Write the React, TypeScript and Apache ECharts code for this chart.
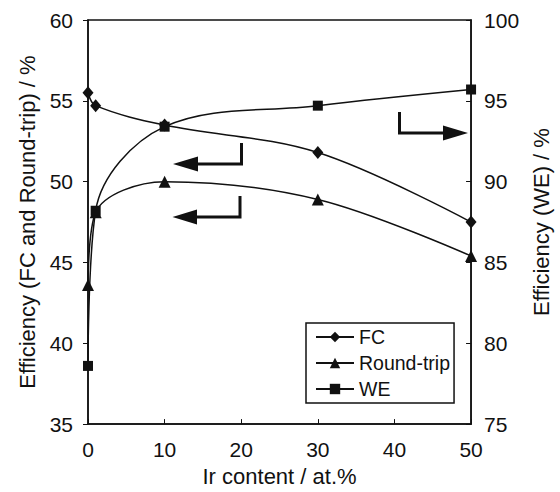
import React, { useEffect, useRef } from "react";
import * as echarts from "echarts";

const irContent = [0, 1, 10, 30, 50];
const fcEff = [55.5, 54.7, 53.5, 51.8, 47.5];
const roundTripEff = [43.6, 48.1, 50.0, 48.9, 45.4];
const weEff = [78.6, 88.2, 93.4, 94.7, 95.7];

const seriesNames = ["FC", "Round-trip", "WE"];
const xTitle = "Ir content / at.%";
const leftTitle = "Efficiency (FC and Round-trip) / %";
const rightTitle = "Efficiency (WE) / %";

const FONT = "'Liberation Sans', Arial, Helvetica, sans-serif";
const INK = "#111";

const pairs = (ys: number[]) => irContent.map((x, i) => [x, ys[i]]);

export default function App() {
  const ref = useRef<HTMLDivElement>(null);
  useEffect(() => {
    document.body.style.margin = "0";
    if (!ref.current) return;
    const chart = echarts.init(ref.current, null, { renderer: "svg" });
    const axisCommon = {
      axisLine: { show: true, lineStyle: { color: INK, width: 1.5 } },
      splitLine: { show: false },
      axisLabel: { color: INK, fontSize: 21, fontFamily: FONT },
      nameTextStyle: { color: INK, fontSize: 22, fontFamily: FONT },
    };
    const lineStyle = { color: INK, width: 1.5 };
    chart.setOption({
      animation: false,
      backgroundColor: "#fff",
      textStyle: { fontFamily: FONT },
      grid: {
        left: 88,
        right: 68,
        top: 20,
        bottom: 66,
        show: true,
        borderColor: INK,
        borderWidth: 1.5,
        backgroundColor: "transparent",
      },
      legend: {
        orient: "vertical",
        left: 306,
        top: 323,
        padding: [4, 4, 4, 9],
        itemGap: 6,
        itemWidth: 38,
        itemHeight: 13,
        borderColor: INK,
        borderWidth: 1.5,
        textStyle: { color: INK, fontSize: 19.5, fontFamily: FONT },
        data: seriesNames,
      },
      xAxis: {
        type: "value",
        min: 0,
        max: 50,
        interval: 10,
        name: xTitle,
        nameLocation: "middle",
        nameGap: 38,
        ...axisCommon,
        axisTick: { show: true, inside: true, length: 5, lineStyle: { color: INK } },
        axisLabel: { ...axisCommon.axisLabel, margin: 15 },
      },
      yAxis: [
        {
          type: "value",
          min: 35,
          max: 60,
          interval: 5,
          position: "left",
          name: leftTitle,
          nameLocation: "middle",
          nameRotate: 90,
          nameGap: 43,
          ...axisCommon,
          axisTick: { show: true, inside: false, length: 5, lineStyle: { color: INK } },
          axisLabel: { ...axisCommon.axisLabel, margin: 15 },
        },
        {
          type: "value",
          min: 75,
          max: 100,
          interval: 5,
          position: "right",
          name: rightTitle,
          nameLocation: "middle",
          nameRotate: 90,
          nameGap: 38,
          ...axisCommon,
          axisTick: { show: true, inside: true, length: 5, lineStyle: { color: INK } },
          axisLabel: { ...axisCommon.axisLabel, margin: 13 },
        },
      ],
      series: [
        {
          name: seriesNames[0],
          type: "line",
          smooth: 0.35,
          yAxisIndex: 0,
          data: pairs(fcEff),
          symbol: "diamond",
          symbolSize: [11, 13],
          itemStyle: { color: INK },
          lineStyle,
        },
        {
          name: seriesNames[1],
          type: "line",
          smooth: 0.35,
          yAxisIndex: 0,
          data: pairs(roundTripEff),
          symbol: "triangle",
          symbolSize: 12,
          itemStyle: { color: INK },
          lineStyle,
        },
        {
          name: seriesNames[2],
          type: "line",
          smooth: 0.35,
          yAxisIndex: 1,
          data: pairs(weEff),
          symbol: "rect",
          symbolSize: 10,
          itemStyle: { color: INK },
          lineStyle,
        },
      ],
      graphic: [
        {
          type: "polyline",
          shape: { points: [[241.5, 143], [241.5, 164], [196, 164]] },
          style: { stroke: INK, lineWidth: 3, fill: null },
        },
        {
          type: "polygon",
          shape: { points: [[173, 164], [198, 156.5], [198, 171.5]] },
          style: { fill: INK },
        },
        {
          type: "polyline",
          shape: { points: [[240, 196], [240, 217], [196, 217]] },
          style: { stroke: INK, lineWidth: 3, fill: null },
        },
        {
          type: "polygon",
          shape: { points: [[172.5, 217], [197, 209.5], [197, 224.5]] },
          style: { fill: INK },
        },
        {
          type: "polyline",
          shape: { points: [[399.5, 112], [399.5, 133], [445, 133]] },
          style: { stroke: INK, lineWidth: 3, fill: null },
        },
        {
          type: "polygon",
          shape: { points: [[468, 133], [443, 125.5], [443, 140.5]] },
          style: { fill: INK },
        },
      ],
    });
    return () => chart.dispose();
  }, []);
  return <div ref={ref} style={{ width: 560, height: 492 }} />;
}
